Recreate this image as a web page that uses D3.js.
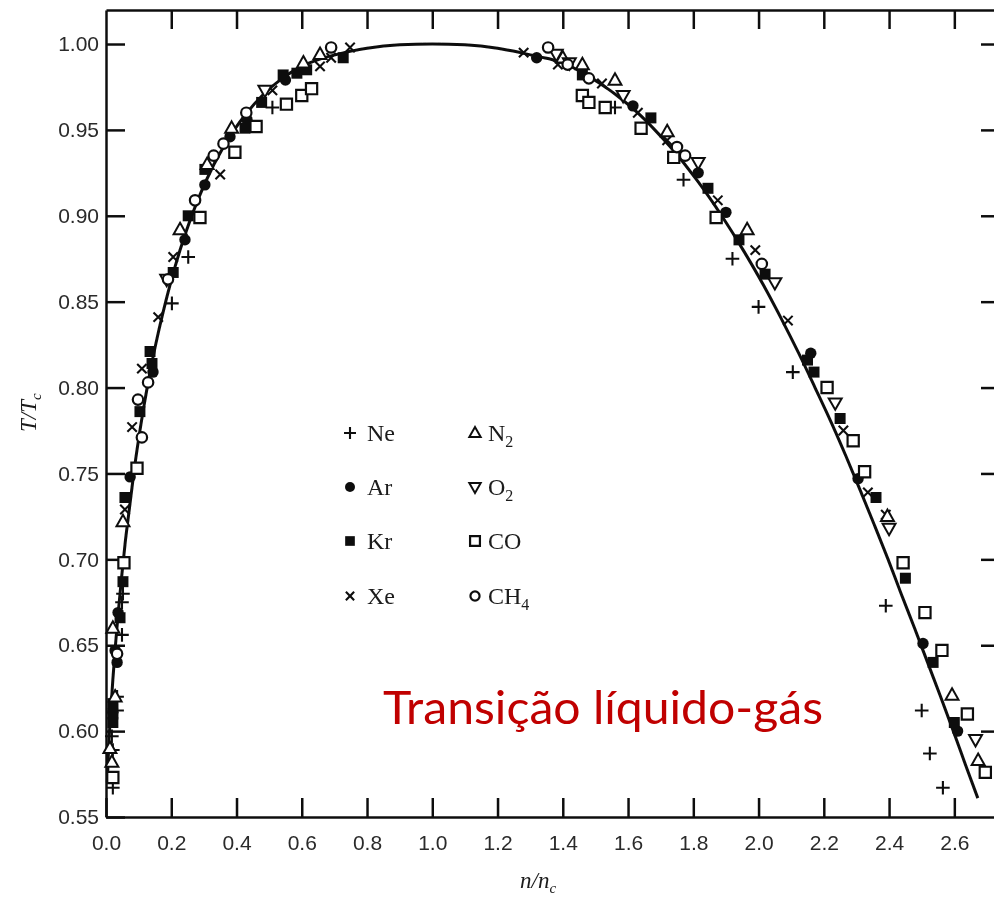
<!DOCTYPE html>
<html>
<head>
<meta charset="utf-8">
<script src="https://cdn.jsdelivr.net/npm/d3@7"></script>
<style>
  body { margin: 0; background: #fff; }
  svg { display: block; }
  .axis .tick text { font-family: "Liberation Sans", Arial, sans-serif; font-size: 21px; fill: #2a2a2a; }
  .axis path, .axis line { stroke: #111; stroke-width: 2.5; }
  .legend text, .axis-title { font-family: "Liberation Serif", "Times New Roman", serif; fill: #1a1a1a; }
</style>
</head>
<body>
<svg id="chart"></svg>
<script>
// reduced density n/nc vs reduced temperature T/Tc
const xTicks = [0.0, 0.2, 0.4, 0.6, 0.8, 1.0, 1.2, 1.4, 1.6, 1.8, 2.0, 2.2, 2.4, 2.6];
const yTicks = [0.55, 0.60, 0.65, 0.70, 0.75, 0.80, 0.85, 0.90, 0.95, 1.00];

const ne = [[0.021,0.567],[0.021,0.589],[0.018,0.597],[0.034,0.612],[0.034,0.620],[0.049,0.656],[0.049,0.675],[0.052,0.680],
  [0.202,0.849],[0.252,0.876],[0.51,0.963],
  [1.56,0.963],[1.77,0.921],[1.92,0.875],[2.0,0.847],[2.105,0.809],[2.39,0.673],[2.50,0.612],[2.525,0.587],[2.565,0.567]];
const ar = [[0.021,0.611],[0.034,0.640],[0.028,0.647],[0.037,0.669],[0.074,0.748],[0.144,0.809],[0.242,0.886],[0.303,0.918],
  [0.38,0.946],[0.432,0.956],[0.55,0.979],
  [1.32,0.992],[1.615,0.964],[1.815,0.925],[1.90,0.902],[2.16,0.820],[2.305,0.747],[2.504,0.651],[2.61,0.600]];
const kr = [[0.021,0.605],[0.021,0.610],[0.021,0.616],[0.043,0.666],[0.052,0.687],[0.058,0.736],[0.104,0.786],[0.135,0.821],
  [0.141,0.814],[0.206,0.867],[0.252,0.900],[0.303,0.927],[0.426,0.951],[0.477,0.966],[0.543,0.982],[0.585,0.983],
  [0.615,0.985],[0.727,0.992],
  [1.46,0.982],[1.67,0.957],[1.845,0.916],[1.94,0.886],[2.02,0.866],[2.15,0.816],[2.17,0.809],[2.25,0.782],[2.36,0.736],
  [2.45,0.689],[2.535,0.640],[2.60,0.605]];
const xe = [[0.058,0.729],[0.08,0.777],[0.11,0.811],[0.16,0.841],[0.206,0.876],[0.35,0.924],[0.51,0.973],[0.656,0.987],
  [0.69,0.992],[0.748,0.998],
  [1.28,0.995],[1.385,0.988],[1.52,0.977],[1.63,0.960],[1.72,0.944],[1.875,0.909],[1.99,0.880],[2.09,0.839],[2.26,0.775],
  [2.335,0.739],[2.39,0.726]];
const n2 = [[0.012,0.590],[0.018,0.582],[0.028,0.620],[0.021,0.660],[0.052,0.722],[0.227,0.892],[0.31,0.930],[0.385,0.951],
  [0.605,0.989],[0.656,0.994],
  [1.40,0.992],[1.46,0.988],[1.56,0.979],[1.72,0.949],[1.965,0.892],[2.395,0.725],[2.593,0.621],[2.673,0.583]];
const o2 = [[0.186,0.863],[0.487,0.973],
  [1.38,0.994],[1.42,0.989],[1.585,0.970],[1.815,0.931],[2.05,0.861],[2.235,0.791],[2.40,0.718],[2.665,0.595]];
const co = [[0.021,0.573],[0.055,0.698],[0.095,0.753],[0.288,0.899],[0.395,0.937],[0.46,0.952],[0.553,0.965],[0.60,0.970],
  [0.63,0.974],
  [1.46,0.970],[1.48,0.966],[1.53,0.963],[1.64,0.951],[1.74,0.934],[1.87,0.899],[2.21,0.800],[2.29,0.769],[2.325,0.751],
  [2.443,0.698],[2.51,0.669],[2.562,0.647],[2.64,0.610],[2.695,0.576]];
const ch4 = [[0.034,0.645],[0.11,0.771],[0.098,0.793],[0.129,0.803],[0.19,0.863],[0.273,0.909],[0.33,0.935],[0.36,0.942],
  [0.43,0.960],[0.69,0.998],
  [1.355,0.998],[1.415,0.988],[1.48,0.980],[1.75,0.940],[1.775,0.935],[2.01,0.872]];

// the drawn coexistence curve, traced point by point
const curve = [[0.004,0.57],[0.008,0.59],[0.014,0.61],[0.021,0.63],[0.029,0.65],[0.038,0.67],[0.048,0.69],[0.059,0.71],
  [0.072,0.73],[0.085,0.75],[0.100,0.77],[0.117,0.79],[0.136,0.81],[0.158,0.83],[0.183,0.85],[0.211,0.87],[0.244,0.89],
  [0.283,0.91],[0.331,0.93],[0.393,0.95],[0.432,0.96],[0.479,0.97],[0.540,0.98],[0.60,0.987],[0.66,0.9915],[0.73,0.995],
  [0.80,0.9975],[0.90,0.9995],[1.00,1.0],[1.10,0.9995],[1.20,0.9975],[1.27,0.995],[1.33,0.9925],[1.385,0.99],[1.49,0.98],
  [1.566,0.97],[1.629,0.96],[1.682,0.95],[1.730,0.94],[1.814,0.92],[1.887,0.90],[1.953,0.88],[2.014,0.86],[2.070,0.84],
  [2.123,0.82],[2.173,0.80],[2.222,0.78],[2.268,0.76],[2.312,0.74],[2.355,0.72],[2.397,0.70],[2.437,0.68],[2.478,0.66],
  [2.518,0.64],[2.558,0.62],[2.597,0.60],[2.635,0.58],[2.672,0.561]];

const width = 994, height = 905;

// marker shapes
const shapes = {
  plus: s => `M${-s},0H${s}M0,${-s}V${s}`,
  cross: s => `M${-s},${-s}L${s},${s}M${-s},${s}L${s},${-s}`,
  triUp: s => `M0,${-s}L${s*0.95},${s*0.68}L${-s*0.95},${s*0.68}Z`,
  triDown: s => `M0,${s}L${s*0.95},${-s*0.68}L${-s*0.95},${-s*0.68}Z`,
  square: s => `M${-s},${-s}H${s}V${s}H${-s}Z`,
  circle: s => `M${s},0A${s},${s} 0 1,1 ${-s},0A${s},${s} 0 1,1 ${s},0Z`
};

const species = [
  {name: 'Ne', sub: '', data: ne, shape: 'plus', size: 6.8, fill: 'none', sw: 2.1},
  {name: 'Ar', sub: '', data: ar, shape: 'circle', size: 5.7, fill: '#111', sw: 0},
  {name: 'Kr', sub: '', data: kr, shape: 'square', size: 5.5, fill: '#111', sw: 0},
  {name: 'Xe', sub: '', data: xe, shape: 'cross', size: 4.7, fill: 'none', sw: 2.1},
  {name: 'N', sub: '2', data: n2, shape: 'triUp', size: 6.8, fill: '#fff', sw: 2},
  {name: 'O', sub: '2', data: o2, shape: 'triDown', size: 6.8, fill: '#fff', sw: 2},
  {name: 'CO', sub: '', data: co, shape: 'square', size: 5.6, fill: '#fff', sw: 2.2},
  {name: 'CH', sub: '4', data: ch4, shape: 'circle', size: 5.2, fill: '#fff', sw: 2.2}
];

const svg = d3.select('#chart')
    .attr('width', width)
    .attr('height', height);

const defs = svg.append('defs');
defs.append('filter').attr('id', 'scan')
  .append('feGaussianBlur').attr('stdDeviation', 0.45);

const fig = svg.append('g').attr('filter', 'url(#scan)');

// scales: left axis at x=106, right frame just past the window edge
const x = d3.scaleLinear().domain([0, 2.74]).range([106, 1000]);
const y = d3.scaleLinear().domain([0.55, 1.0198]).range([817, 10]);

// frame and ticks (ticks point inward)
fig.append('g').attr('class', 'axis')
    .attr('transform', `translate(0,${y(0.55)})`)
    .call(d3.axisBottom(x).tickValues(xTicks).tickSize(-19).tickSizeOuter(0).tickPadding(18)
      .tickFormat(d3.format('.1f')));

fig.append('g').attr('class', 'axis')
    .attr('transform', `translate(0,${y(1.0198)})`)
    .call(d3.axisTop(x).tickValues(xTicks.slice(1)).tickSize(-19).tickSizeOuter(0).tickFormat(''));

fig.append('g').attr('class', 'axis')
    .attr('transform', `translate(${x(0)},0)`)
    .call(d3.axisLeft(y).tickValues(yTicks).tickSize(-19).tickSizeOuter(0).tickPadding(7)
      .tickFormat(d3.format('.2f')));

fig.append('g').attr('class', 'axis')
    .attr('transform', `translate(${x(2.74)},0)`)
    .call(d3.axisRight(y).tickValues(yTicks.slice(1)).tickSize(-19).tickSizeOuter(0).tickFormat(''));

fig.selectAll('.axis .domain').attr('stroke-width', 2.8);

// the fitted curve
const line = d3.line()
    .x(d => x(d[0]))
    .y(d => y(d[1]))
    .curve(d3.curveMonotoneX);

fig.append('path')
    .datum(curve)
    .attr('d', line)
    .attr('fill', 'none')
    .attr('stroke', '#111')
    .attr('stroke-width', 3);

// data markers
species.forEach(sp => {
  fig.append('g').selectAll('path')
      .data(sp.data)
    .join('path')
      .attr('transform', d => `translate(${x(d[0])},${y(d[1])})`)
      .attr('d', shapes[sp.shape](sp.size))
      .attr('fill', sp.fill)
      .attr('stroke', '#111')
      .attr('stroke-width', sp.sw);
});

// legend, two columns of four
const legend = fig.append('g').attr('class', 'legend');
const rowY = [433, 487, 541, 596];
const colX = [350, 475];

species.forEach((sp, i) => {
  const cx = colX[Math.floor(i / 4)], cy = rowY[i % 4];
  legend.append('path')
      .attr('transform', `translate(${cx},${cy})`)
      .attr('d', shapes[sp.shape](sp.size * 0.88))
      .attr('fill', sp.fill)
      .attr('stroke', '#111')
      .attr('stroke-width', sp.sw);
  const t = legend.append('text')
      .attr('x', cx + (i < 4 ? 17 : 13))
      .attr('y', cy + 8)
      .attr('font-size', 24);
  t.append('tspan').text(sp.name);
  if (sp.sub) t.append('tspan').attr('dy', 6).attr('font-size', 16).text(sp.sub);
});

// axis titles
const yt = fig.append('text')
    .attr('class', 'axis-title')
    .attr('transform', 'translate(36,432) rotate(-90)')
    .attr('font-size', 23)
    .attr('font-style', 'italic');
yt.append('tspan').text('T/T');
yt.append('tspan').attr('dy', 5).attr('font-size', 15).text('c');

const xt = fig.append('text')
    .attr('class', 'axis-title')
    .attr('x', 520)
    .attr('y', 888)
    .attr('font-size', 23)
    .attr('font-style', 'italic');
xt.append('tspan').text('n/n');
xt.append('tspan').attr('dy', 5).attr('font-size', 15).text('c');

// annotation added on the slide
svg.append('text')
    .attr('x', 383)
    .attr('y', 724)
    .attr('font-family', 'Lato, "Open Sans", sans-serif')
    .attr('font-size', 46)
    .attr('fill', '#c00000')
    .attr('textLength', 440)
    .attr('lengthAdjust', 'spacingAndGlyphs')
    .text('Transição líquido-gás');
</script>
</body>
</html>
